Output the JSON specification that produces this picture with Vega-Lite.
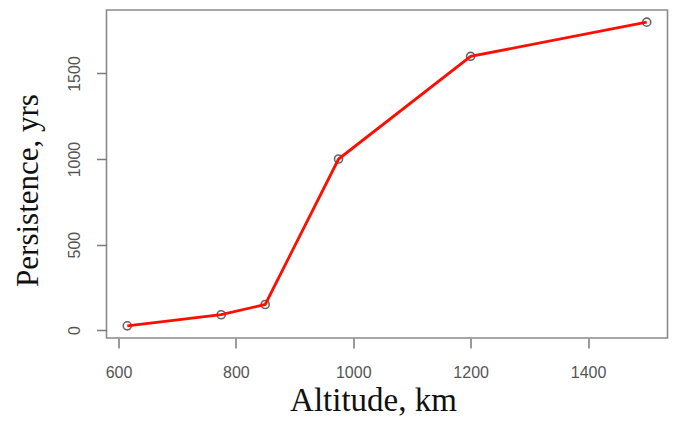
{
  "$schema": "https://vega.github.io/schema/vega-lite/v6.json",
  "width": 561,
  "height": 328,
  "autosize": {"type": "none"},
  "padding": {"left": 106.5, "top": 10, "right": 7.5, "bottom": 83},
  "background": "white",
  "config": {
    "view": {"stroke": "#8a8a8a", "strokeWidth": 1.6},
    "axis": {
      "domain": false,
      "grid": false,
      "tickColor": "#7a7a7a",
      "tickWidth": 1.5,
      "tickSize": 10,
      "labelFont": "Liberation Sans",
      "labelFontSize": 16,
      "labelColor": "#555555",
      "titleFont": "Liberation Serif",
      "titleFontWeight": "normal",
      "titleColor": "#111111"
    }
  },
  "data": {
    "values": [
      {"altitude": 615, "persistence": 25},
      {"altitude": 775, "persistence": 90},
      {"altitude": 850, "persistence": 150},
      {"altitude": 975, "persistence": 1000},
      {"altitude": 1200, "persistence": 1600},
      {"altitude": 1500, "persistence": 1800}
    ]
  },
  "encoding": {
    "x": {
      "field": "altitude",
      "type": "quantitative",
      "scale": {"domain": [579.6, 1535.4], "nice": false, "zero": false},
      "axis": {
        "title": "Altitude, km",
        "format": "d",
        "values": [600, 800, 1000, 1200, 1400],
        "labelPadding": 16,
        "titleFontSize": 33,
        "titleX": 266.5,
        "titleY": 72.5,
        "titleBaseline": "alphabetic",
        "titleAlign": "center"
      }
    },
    "y": {
      "field": "persistence",
      "type": "quantitative",
      "scale": {"domain": [-46, 1871], "nice": false, "zero": false},
      "axis": {
        "title": "Persistence, yrs",
        "format": "d",
        "values": [0, 500, 1000, 1500],
        "labelAngle": -90,
        "labelAlign": "center",
        "labelBaseline": "alphabetic",
        "labelPadding": 17,
        "titleFontSize": 31,
        "titleAngle": -90,
        "titleX": -69.5,
        "titleY": 180,
        "titleBaseline": "alphabetic",
        "titleAlign": "center"
      }
    }
  },
  "layer": [
    {
      "mark": {"type": "point", "shape": "circle", "filled": false, "stroke": "#666666", "strokeWidth": 1.6, "size": 65, "opacity": 1}
    },
    {
      "mark": {"type": "line", "color": "#ff0d00", "strokeWidth": 2.8}
    }
  ]
}
